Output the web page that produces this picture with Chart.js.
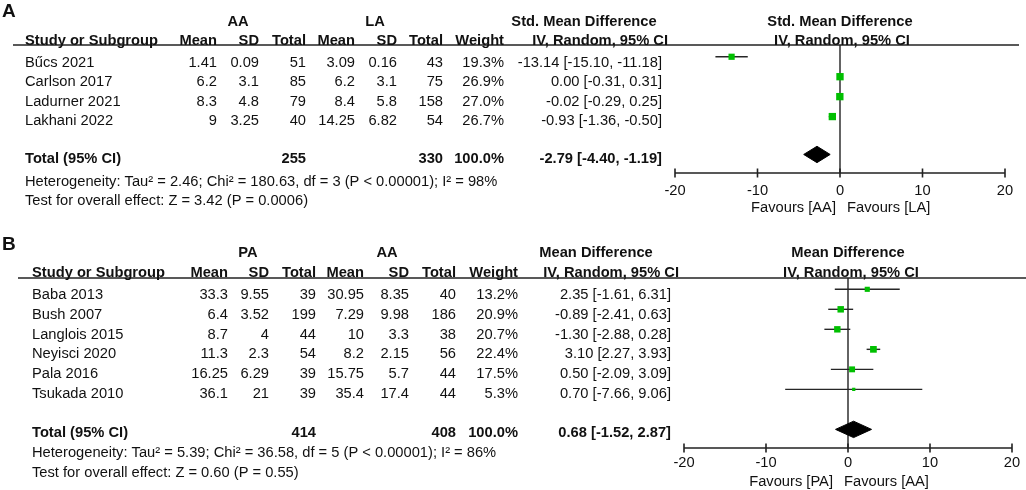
<!DOCTYPE html>
<html>
<head>
<meta charset="utf-8">
<script src="https://cdn.jsdelivr.net/npm/chart.js@4.4.1/dist/chart.umd.min.js"></script>
<style>
  html, body { margin: 0; padding: 0; background: #fff; }
  .panel { position: absolute; left: 0; width: 1026px; }
  #wrapA { top: 0; height: 225px; }
  #wrapB { top: 225px; height: 265px; }
</style>
</head>
<body>
<div class="panel" id="wrapA"><canvas id="chartA"></canvas></div>
<div class="panel" id="wrapB"><canvas id="chartB"></canvas></div>
<script>
/* ── panel A : AA vs LA, std. mean difference ── */
const studiesA = ['Bűcs 2021', 'Carlson 2017', 'Ladurner 2021', 'Lakhani 2022'];
const aaMeanA  = [1.41, 6.2, 8.3, 9];
const aaSdA    = [0.09, 3.1, 4.8, 3.25];
const aaTotalA = [51, 85, 79, 40];
const laMeanA  = [3.09, 6.2, 8.4, 14.25];
const laSdA    = [0.16, 3.1, 5.8, 6.82];
const laTotalA = [43, 75, 158, 54];
const weightA  = [19.3, 26.9, 27.0, 26.7];
const effectA  = [-13.14, 0.00, -0.02, -0.93];
const lowerA   = [-15.10, -0.31, -0.29, -1.36];
const upperA   = [-11.18, 0.31, 0.25, -0.50];
const pooledA  = [-2.79, -4.40, -1.19];      // estimate, lower, upper
const totalsA  = [255, 330];
const hetA     = 'Heterogeneity: Tau² = 2.46; Chi² = 180.63, df = 3 (P < 0.00001); I² = 98%';
const testA    = 'Test for overall effect: Z = 3.42 (P = 0.0006)';

/* ── panel B : PA vs AA, mean difference ── */
const studiesB = ['Baba 2013', 'Bush 2007', 'Langlois 2015', 'Neyisci 2020', 'Pala 2016', 'Tsukada 2010'];
const paMeanB  = [33.3, 6.4, 8.7, 11.3, 16.25, 36.1];
const paSdB    = [9.55, 3.52, 4, 2.3, 6.29, 21];
const paTotalB = [39, 199, 44, 54, 39, 39];
const aaMeanB  = [30.95, 7.29, 10, 8.2, 15.75, 35.4];
const aaSdB    = [8.35, 9.98, 3.3, 2.15, 5.7, 17.4];
const aaTotalB = [40, 186, 38, 56, 44, 44];
const weightB  = [13.2, 20.9, 20.7, 22.4, 17.5, 5.3];
const effectB  = [2.35, -0.89, -1.30, 3.10, 0.50, 0.70];
const lowerB   = [-1.61, -2.41, -2.88, 2.27, -2.09, -7.66];
const upperB   = [6.31, 0.63, 0.28, 3.93, 3.09, 9.06];
const pooledB  = [0.68, -1.52, 2.87];
const totalsB  = [414, 408];
const hetB     = 'Heterogeneity: Tau² = 5.39; Chi² = 36.58, df = 5 (P < 0.00001); I² = 86%';
const testB    = 'Test for overall effect: Z = 0.60 (P = 0.55)';

const xTicks = [-20, -10, 0, 10, 20];

const FONT = '"Liberation Sans", Arial, sans-serif';
const SIZE = 14.7;
const INK = '#111';
const GREEN = '#00bf00';

function fmtCI(e, lo, hi) {
    return e.toFixed(2) + ' [' + lo.toFixed(2) + ', ' + hi.toFixed(2) + ']';
}

function buildDatasets(effect, lower, upper, weight, pooled, totalRow) {
    const sets = [];
    // CI whiskers
    effect.forEach((e, i) => {
        sets.push({
            type: 'line',
            data: [{ x: lower[i], y: i }, { x: upper[i], y: i }],
            borderColor: '#262626',
            borderWidth: 1.4,
            pointRadius: 0,
            fill: false,
            order: 2
        });
    });
    // pooled diamond
    const h = 0.41;
    sets.push({
        type: 'line',
        data: [
            { x: pooled[1], y: totalRow },
            { x: pooled[0], y: totalRow - h },
            { x: pooled[2], y: totalRow },
            { x: pooled[0], y: totalRow + h },
            { x: pooled[1], y: totalRow }
        ],
        borderColor: '#000',
        backgroundColor: '#000',
        borderWidth: 1,
        pointRadius: 0,
        fill: 'shape',
        order: 3
    });
    // weighted squares
    sets.push({
        type: 'scatter',
        data: effect.map((e, i) => ({ x: e, y: i })),
        pointStyle: 'rect',
        pointRadius: weight.map(w => Math.sqrt(w)),
        backgroundColor: GREEN,
        borderWidth: 0,
        order: 0
    });
    return sets;
}

function forestPlugin(p) {
    return {
        id: 'forest' + p.name,
        beforeDatasetsDraw(chart) {
            const { ctx, chartArea: a, scales: { x } } = chart;
            ctx.save();
            ctx.strokeStyle = '#222';
            ctx.lineWidth = 1.7;
            ctx.beginPath();
            ctx.moveTo(p.ruleFrom, a.top);
            ctx.lineTo(p.ruleTo, a.top);
            ctx.stroke();

            const x0 = x.getPixelForValue(0);
            ctx.lineWidth = 1.4;
            ctx.beginPath();
            ctx.moveTo(x0, a.top);
            ctx.lineTo(x0, a.bottom);
            ctx.stroke();

            // bottom axis with ticks crossing it
            ctx.lineWidth = 1.6;
            ctx.beginPath();
            ctx.moveTo(x.getPixelForValue(xTicks[0]), a.bottom);
            ctx.lineTo(x.getPixelForValue(xTicks[xTicks.length - 1]), a.bottom);
            xTicks.forEach(v => {
                const px = x.getPixelForValue(v);
                ctx.moveTo(px, a.bottom - 4.5);
                ctx.lineTo(px, a.bottom + 4.5);
            });
            ctx.stroke();
            ctx.restore();
        },
        afterDraw(chart) {
            const { ctx, scales: { x } } = chart;
            const c = p.cols;
            const txt = (s, px, py, align, bold, size) => {
                ctx.font = (bold ? 'bold ' : '') + (size || SIZE) + 'px ' + FONT;
                ctx.textAlign = align;
                ctx.fillText(s, px, py);
            };
            ctx.save();
            ctx.fillStyle = INK;
            ctx.textBaseline = 'alphabetic';

            txt(p.name, 2, p.letterY, 'left', true, 19);

            // group headers
            txt(p.groups[0], c.g1, p.h1, 'center', true);
            txt(p.groups[1], c.g2, p.h1, 'center', true);
            txt(p.measure, c.measure, p.h1, 'center', true);
            txt(p.measure, c.plotHead, p.h1, 'center', true);

            // column headers
            txt('Study or Subgroup', c.study, p.h2, 'left', true);
            txt('Mean', c.m1, p.h2, 'right', true);
            txt('SD', c.s1, p.h2, 'right', true);
            txt('Total', c.t1, p.h2, 'right', true);
            txt('Mean', c.m2, p.h2, 'right', true);
            txt('SD', c.s2, p.h2, 'right', true);
            txt('Total', c.t2, p.h2, 'right', true);
            txt('Weight', c.w, p.h2, 'right', true);
            txt('IV, Random, 95% CI', c.ciHead, p.h2, 'right', true);
            txt('IV, Random, 95% CI', c.plotHead2, p.h2, 'center', true);

            // study rows
            p.studies.forEach((s, i) => {
                const yy = p.row0 + i * p.step;
                txt(s, c.study, yy, 'left');
                txt(String(p.m1[i]), c.m1, yy, 'right');
                txt(String(p.s1[i]), c.s1, yy, 'right');
                txt(String(p.t1[i]), c.t1, yy, 'right');
                txt(String(p.m2[i]), c.m2, yy, 'right');
                txt(String(p.s2[i]), c.s2, yy, 'right');
                txt(String(p.t2[i]), c.t2, yy, 'right');
                txt(p.weight[i].toFixed(1) + '%', c.w, yy, 'right');
                txt(fmtCI(p.effect[i], p.lower[i], p.upper[i]), c.ci, yy, 'right');
            });

            // total row
            txt('Total (95% CI)', c.study, p.totalY, 'left', true);
            txt(String(p.totals[0]), c.t1, p.totalY, 'right', true);
            txt(String(p.totals[1]), c.t2, p.totalY, 'right', true);
            txt('100.0%', c.w, p.totalY, 'right', true);
            txt(fmtCI(p.pooled[0], p.pooled[1], p.pooled[2]), c.ci, p.totalY, 'right', true);

            txt(p.het, c.study, p.hetY, 'left');
            txt(p.test, c.study, p.testY, 'left');

            // axis labels
            xTicks.forEach(v => txt(String(v), x.getPixelForValue(v), p.tickY, 'center'));
            const x0 = x.getPixelForValue(0);
            txt(p.favours[0], x0 + p.favL, p.favY, 'right');
            txt(p.favours[1], x0 + p.favR, p.favY, 'left');
            ctx.restore();
        }
    };
}

function makeForest(canvasId, p, datasets, pad, yMin, yMax) {
    return new Chart(document.getElementById(canvasId), {
        type: 'scatter',
        data: { datasets: datasets },
        options: {
            responsive: true,
            maintainAspectRatio: false,
            animation: false,
            events: [],
            layout: { padding: pad },
            plugins: { legend: { display: false }, tooltip: { enabled: false } },
            scales: {
                x: { type: 'linear', min: -20, max: 20, display: false },
                y: { type: 'linear', min: yMin, max: yMax, reverse: true, display: false }
            }
        },
        plugins: [forestPlugin(p)]
    });
}

/* panel A */
makeForest('chartA', {
    name: 'A', letterY: 17,
    groups: ['AA', 'LA'], measure: 'Std. Mean Difference',
    favours: ['Favours [AA]', 'Favours [LA]'], favL: -4, favR: 7,
    ruleFrom: 13, ruleTo: 1019,
    h1: 25.5, h2: 44.5, row0: 66.5, step: 19.55, totalY: 163, hetY: 185.5, testY: 204.5,
    tickY: 195, favY: 212,
    cols: { study: 25, m1: 217, s1: 259, t1: 306, m2: 355, s2: 397, t2: 443, w: 504,
            ci: 662, ciHead: 668, g1: 238, g2: 375, measure: 584, plotHead: 840, plotHead2: 842 },
    studies: studiesA, m1: aaMeanA, s1: aaSdA, t1: aaTotalA, m2: laMeanA, s2: laSdA, t2: laTotalA,
    weight: weightA, effect: effectA, lower: lowerA, upper: upperA, pooled: pooledA, totals: totalsA,
    het: hetA, test: testA
}, buildDatasets(effectA, lowerA, upperA, weightA, pooledA, 4.9),
   { left: 675, right: 21, top: 45, bottom: 52 }, -0.59, 5.83);

/* panel B */
makeForest('chartB', {
    name: 'B', letterY: 25,
    groups: ['PA', 'AA'], measure: 'Mean Difference',
    favours: ['Favours [PA]', 'Favours [AA]'], favL: -15, favR: -4,
    ruleFrom: 18, ruleTo: 1026,
    h1: 32, h2: 52, row0: 74, step: 19.75, totalY: 212.3, hetY: 231.7, testY: 251.5,
    tickY: 242, favY: 261,
    cols: { study: 32, m1: 228, s1: 269, t1: 316, m2: 364, s2: 409, t2: 456, w: 518,
            ci: 671, ciHead: 679, g1: 248, g2: 387, measure: 596, plotHead: 848, plotHead2: 851 },
    studies: studiesB, m1: paMeanB, s1: paSdB, t1: paTotalB, m2: aaMeanB, s2: aaSdB, t2: aaTotalB,
    weight: weightB, effect: effectB, lower: lowerB, upper: upperB, pooled: pooledB, totals: totalsB,
    het: hetB, test: testB
}, buildDatasets(effectB, lowerB, upperB, weightB, pooledB, 7),
   { left: 684, right: 14, top: 53, bottom: 42 }, -0.565, 7.93);
</script>
</body>
</html>
